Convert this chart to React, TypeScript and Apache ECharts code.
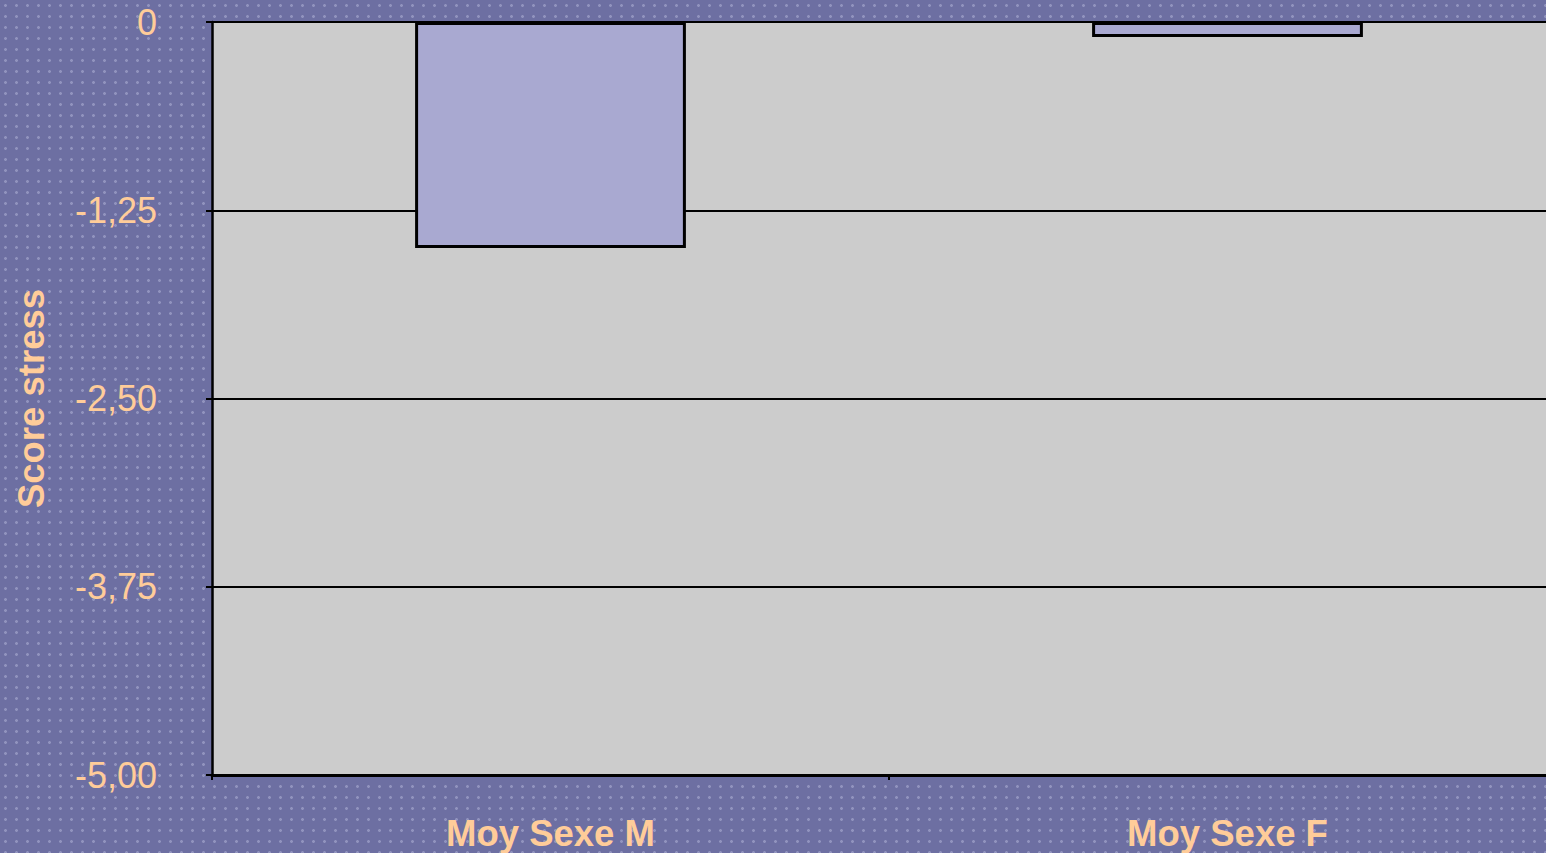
import React, { useEffect, useRef } from "react";
import * as echarts from "echarts";

const categories = ["Moy Sexe M", "Moy Sexe F"];
const scores = [-1.5, -0.1];
const yMin = -5;
const yMax = 0;
const yInterval = 1.25;

export default function App() {
  const ref = useRef<HTMLDivElement>(null);
  useEffect(() => {
    if (!ref.current) return;
    const chart = echarts.init(ref.current, null, { renderer: "svg" });
    const labelColor = "#ffcc99";
    const font = "Liberation Sans, Arial, sans-serif";
    chart.setOption({
      animation: false,
      backgroundColor: "transparent",
      grid: {
        left: 212,
        right: -20,
        top: 22,
        bottom: 78,
        show: true,
        backgroundColor: "#cccccc",
        borderWidth: 0,
        containLabel: false,
        outerBoundsMode: "none",
      },
      xAxis: {
        type: "category",
        data: categories,
        axisLine: { show: true, onZero: false, lineStyle: { color: "#000", width: 3 } },
        axisTick: { show: true, length: 5, lineStyle: { color: "#000", width: 2 } },
        axisLabel: {
          color: labelColor,
          fontFamily: font,
          fontWeight: "bold",
          fontSize: 36.5,
          margin: 40,
          interval: 0,
        },
        splitLine: { show: false },
      },
      yAxis: {
        type: "value",
        min: yMin,
        max: yMax,
        interval: yInterval,
        name: "Score stress",
        nameLocation: "middle",
        nameGap: 162,
        nameTextStyle: {
          color: labelColor,
          fontFamily: font,
          fontWeight: "bold",
          fontSize: 36.5,
        },
        axisLine: { show: true, lineStyle: { color: "#000", width: 2.5 } },
        axisTick: { show: true, length: 6, lineStyle: { color: "#000", width: 2 } },
        axisLabel: {
          color: labelColor,
          fontFamily: font,
          fontSize: 36,
          margin: 55,
          formatter: (v: number) => (v === 0 ? "0" : v.toFixed(2).replace(".", ",")),
        },
        splitLine: { show: true, lineStyle: { color: "#000", width: 2 } },
      },
      series: [
        {
          type: "bar",
          data: scores,
          barWidth: "40%",
          itemStyle: { color: "#a9a9d1", borderColor: "#000", borderWidth: 3 },
        },
      ],
    });
    return () => chart.dispose();
  }, []);
  return (
    <div
      style={{
        position: "fixed",
        left: 0,
        top: 0,
        width: 1546,
        height: 853,
        overflow: "hidden",
        backgroundColor: "#6d6fa2",
        backgroundImage:
          "radial-gradient(circle, rgba(190,192,225,0.45) 1.2px, transparent 1.6px)",
        backgroundSize: "11px 11px",
      }}
    >
      <div ref={ref} style={{ width: 1546, height: 853 }} />
    </div>
  );
}
